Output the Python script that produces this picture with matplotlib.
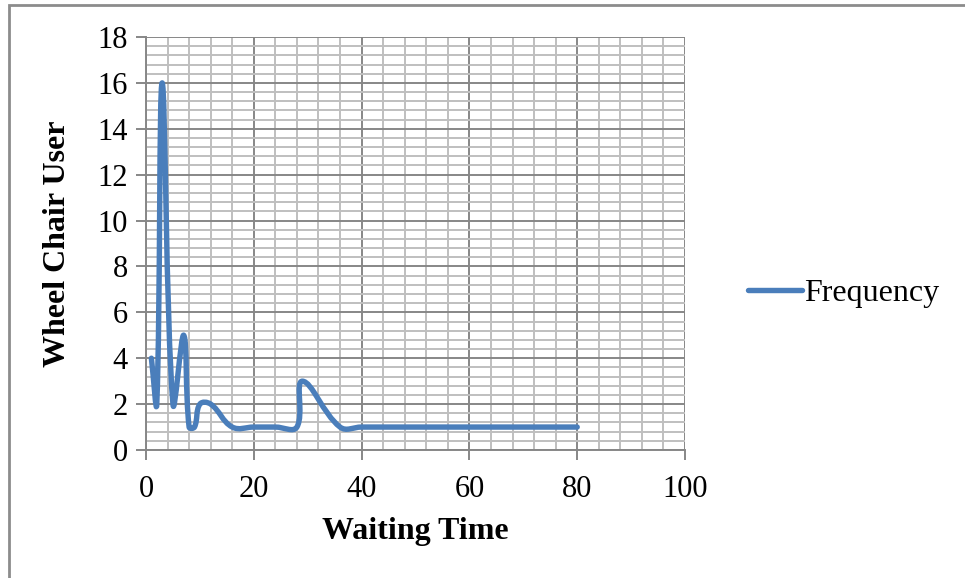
import numpy as np
import matplotlib.pyplot as plt
from matplotlib.path import Path
from matplotlib.patches import PathPatch, Rectangle
from matplotlib.lines import Line2D
from matplotlib.ticker import MultipleLocator

plt.rcParams['font.family'] = ['Liberation Serif', 'DejaVu Serif']

# data
waiting_time = [1, 2, 3, 5, 7, 8, 9, 10, 12, 16, 20, 24, 28, 29, 36, 40, 50, 60, 70, 80]
frequency = [4, 2, 16, 2, 5, 1, 1, 2, 2, 1, 1, 1, 1, 3, 1, 1, 1, 1, 1, 1]

LINE_COLOR = "#4a7ebb"


def smooth_path(ax, xs, ys, f=0.4):
    # excel style smoothed line, control points weighted by on-screen segment lengths
    pts = ax.transData.transform(np.column_stack([xs, ys]))
    n = len(pts)
    verts = [pts[0]]
    codes = [Path.MOVETO]
    for i in range(n - 1):
        p0 = pts[max(i - 1, 0)]
        p1 = pts[i]
        p2 = pts[i + 1]
        p3 = pts[min(i + 2, n - 1)]
        d01 = np.hypot(*(p1 - p0))
        d12 = np.hypot(*(p2 - p1))
        d23 = np.hypot(*(p3 - p2))
        c1 = p1 + f * (p2 - p0) * d12 / (d01 + d12)
        c2 = p2 - f * (p3 - p1) * d12 / (d12 + d23)
        verts += [c1, c2, p2]
        codes += [Path.CURVE4] * 3
    verts = ax.transData.inverted().transform(np.array(verts))
    return Path(verts, codes)


fig = plt.figure(figsize=(9.65, 5.78), dpi=100)
ax = fig.add_axes([146 / 965, 1 - 450 / 578, (685 - 146) / 965, (450 - 37) / 578])
ax.set_xlim(0, 100)
ax.set_ylim(0, 18)

ax.add_patch(PathPatch(smooth_path(ax, waiting_time, frequency), facecolor="none",
                       edgecolor=LINE_COLOR, lw=3.9, capstyle="round", joinstyle="round", zorder=3))

ax.xaxis.set_major_locator(MultipleLocator(20))
ax.xaxis.set_minor_locator(MultipleLocator(4))
ax.yaxis.set_major_locator(MultipleLocator(2))
ax.yaxis.set_minor_locator(MultipleLocator(0.4))
ax.grid(which="major", color="#878787", lw=1.4)
ax.grid(which="minor", color="#bfbfbf", lw=1.4)
ax.set_axisbelow(True)

for side in ["top", "right"]:
    ax.spines[side].set_visible(False)
for side in ["left", "bottom"]:
    ax.spines[side].set_color("#878787")
    ax.spines[side].set_linewidth(1.4)

ax.tick_params(which="major", length=7, width=1.4, color="#878787", labelsize=22)
ax.tick_params(axis="x", pad=11)
ax.tick_params(axis="y", pad=6)
ax.tick_params(which="minor", length=0)

ax.set_xlabel("Waiting Time", fontsize=23, fontweight="bold", labelpad=9)
ax.set_ylabel("Wheel Chair User", fontsize=23, fontweight="bold", labelpad=18)

handle = Line2D([], [], color=LINE_COLOR, lw=3.9, solid_capstyle="round")
fig.legend([handle], ["Frequency"], loc="center left", bbox_to_anchor=(748 / 965, 1 - 293 / 578),
           frameon=False, fontsize=23, handlelength=1.7, handletextpad=0.05, borderaxespad=0,
           borderpad=0)

# outer chart border (only left and top edges visible in the crop)
fig.patches.append(Rectangle((8.5 / 965, -0.1), 1.2, 1.1 - 5.5 / 578, transform=fig.transFigure,
                             fill=False, edgecolor="#8c8c8c", lw=2))

fig.savefig("out.png", dpi=100)
